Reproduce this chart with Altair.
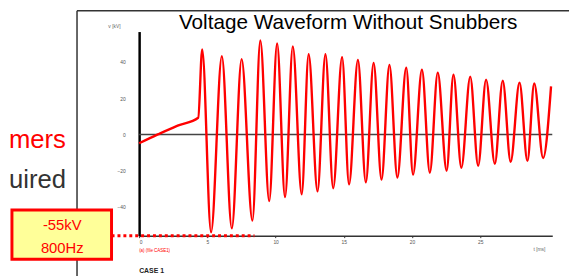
import altair as alt
import pandas as pd

# ---- data ----
t_ms = [0, 1.37, 2.82, 4.33, 4.62, 5.27, 6.06, 6.79, 7.51, 8.30, 8.88, 9.53, 10.11, 10.69,
        11.26, 11.91, 12.42, 13.07, 13.65, 14.22, 14.87, 15.38, 16.03, 16.61, 17.18, 17.76,
        18.34, 18.92, 19.57, 20.07, 20.72, 21.30, 21.88, 22.53, 23.03, 23.61, 24.26, 24.84,
        25.42, 26.06, 26.64, 27.22, 27.87, 28.45, 28.95, 29.60, 30.18]
v_kv = [-4.9, 0, 4.9, 9.2, 47, -54, 43.2, -51.9, 41.6, -47.6, 51.9, -36.8, 50.3, -34.6,
        48.6, -33, 44.3, -31.4, 44.3, -29.7, 42.7, -27.6, 41.1, -26.5, 39.5, -24.9,
        38.4, -23.8, 36.8, -22.2, 35.7, -21.1, 34.1, -20, 33, -18.4, 31.9, -17.3,
        30.3, -16.2, 29.7, -15.1, 28.6, -14.6, 28.1, -13, 26.5]
y_ticks = [-40, -20, 0, 20, 40]
x_ticks = [0, 5, 10, 15, 20, 25]
level_t = [-2.02]
level_t2 = [8.45]
level_v = [-55.9]
zero_v = [0]

title_text = "Voltage Waveform Without Snubbers"
box_lines = ["-55kV", "800Hz"]
side_texts = ["mers", "uired"]

X_DOMAIN = [0, 30.27]
Y_DOMAIN = [-55.9, 56.8]
FONT = "Liberation Sans"

xs = alt.Scale(domain=X_DOMAIN, nice=False, zero=False)
ys = alt.Scale(domain=Y_DOMAIN, nice=False, zero=False)

wave_df = pd.DataFrame({"t": t_ms, "v": v_kv})
level_df = pd.DataFrame({"t": level_t, "t2": level_t2, "v": level_v})
zero_df = pd.DataFrame({"t": [X_DOMAIN[0]], "t2": [X_DOMAIN[1]], "v": zero_v})
one = pd.DataFrame({"d": [0]})

x_axis = alt.Axis(values=x_ticks, title=None, domainColor="#333", domainWidth=1.5,
                  tickSize=2, tickColor="#333", labelFontSize=5, labelPadding=2,
                  labelColor="#555", grid=False, labelFont=FONT)
y_axis = alt.Axis(values=y_ticks, title=None, domainColor="black", domainWidth=2.5,
                  ticks=False, labelFontSize=5, labelPadding=14, labelColor="#555",
                  grid=False, labelFont=FONT)

zero_line = alt.Chart(zero_df).mark_rule(color="#444", strokeWidth=1.5).encode(
    x=alt.X("t:Q", scale=xs, axis=x_axis), x2="t2:Q",
    y=alt.Y("v:Q", scale=ys, axis=y_axis))

wave = alt.Chart(wave_df).mark_line(color="#ff0000", strokeWidth=2.4,
                                    interpolate="monotone").encode(
    x=alt.X("t:Q", scale=xs), y=alt.Y("v:Q", scale=ys))

level = alt.Chart(level_df).mark_rule(color="#ff0000", strokeWidth=3,
                                      strokeDash=[3, 3]).encode(
    x=alt.X("t:Q", scale=xs), x2="t2:Q", y=alt.Y("v:Q", scale=ys))

frame_left = alt.Chart(one).mark_rule(color="#333", strokeWidth=1.5).encode(
    x=alt.value(-63), y=alt.value(-21), y2=alt.value(250))
frame_top = alt.Chart(one).mark_rule(color="#333", strokeWidth=1.5).encode(
    x=alt.value(-63), x2=alt.value(436), y=alt.value(-21))

box = alt.Chart(one).mark_rect(fill="#ffff99", stroke="#ff0000", strokeWidth=3).encode(
    x=alt.value(-129), x2=alt.value(-28), y=alt.value(181), y2=alt.value(231))


def txt(s, x, y, size, color, align="center", weight="normal"):
    return alt.Chart(one).mark_text(text=s, font=FONT, fontSize=size, color=color,
                                    align=align, baseline="alphabetic",
                                    fontWeight=weight).encode(
        x=alt.value(x), y=alt.value(y))


texts = [
    txt(title_text, 212, -3, 21, "black"),
    txt(box_lines[0], -78, 201, 15, "#ff0000"),
    txt(box_lines[1], -78, 225, 15, "#ff0000"),
    txt(side_texts[0], -132, 118, 26, "#ff0000", align="left"),
    txt(side_texts[1], -132, 159, 26, "#333333", align="left"),
    txt("v [kV]", -25, -4, 5, "#666"),
    txt("t [ms]", 406, 223, 5, "#666"),
    txt("(a) (file CASE1)", 0, 224, 4.5, "#ff0000", align="left"),
    txt("CASE 1", 0, 245, 7, "#222", align="left", weight="bold"),
]

chart = alt.layer(frame_left, frame_top, zero_line, wave, level, box, *texts).properties(
    width=419, height=207, autosize="none",
    padding={"left": 133, "top": 22, "right": 19, "bottom": 39},
    background="white",
).configure_view(stroke=None)

chart.save("out.html", embed_options={"renderer": "svg", "actions": False})
